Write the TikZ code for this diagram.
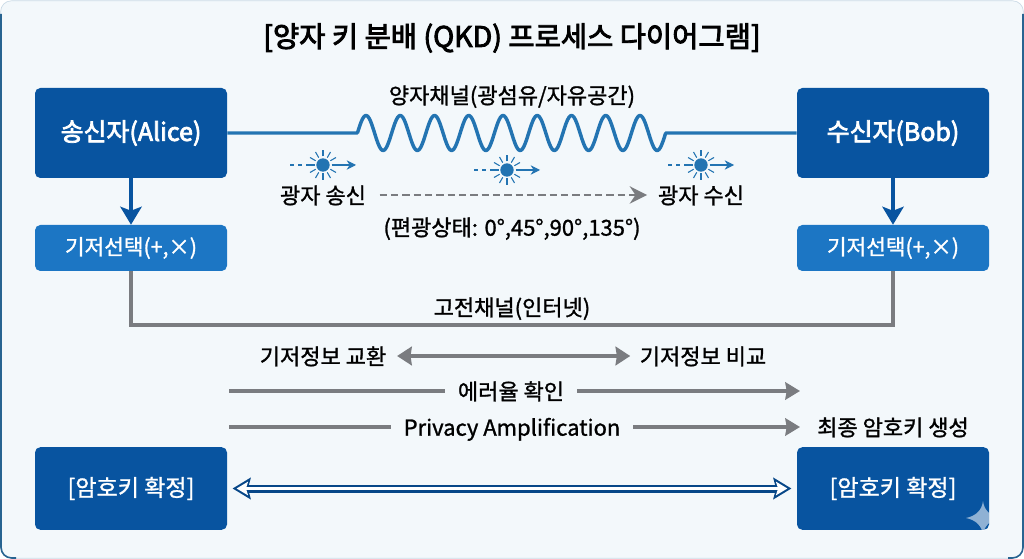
\documentclass[tikz,border=0pt]{standalone}
\usepackage{fontspec}
\setmainfont{Noto Sans CJK KR}[FakeBold=1.2]
\newfontfamily\heavyfont{Noto Sans CJK KR}[FakeBold=3]
\usepackage{tikz}
\usetikzlibrary{arrows.meta,positioning,calc}
\definecolor{pagebg}{RGB}{243,248,251}
\definecolor{frameblue}{RGB}{40,100,145}
\definecolor{alicenavy}{RGB}{8,84,160}
\definecolor{basisblue}{RGB}{28,118,196}
\definecolor{wireblue}{RGB}{35,116,178}
\definecolor{linkgray}{RGB}{122,124,128}
\newcommand{\photon}[3]{%
  \node[photoncore] (#1) at (#2,#3) {};
  \foreach \ang in {0,30,...,330}
    \draw[wireblue, line width=0.8pt] ($(#1)+(\ang:8.5)$) -- ($(#1)+(\ang:15)$);
  \draw[wireblue, dashed, line width=0.8pt] ($(#1)+(-33,0)$) -- ($(#1)+(-15,0)$);
  \draw[wireblue, -{Stealth[length=7pt,width=7pt]}, line width=0.8pt] ($(#1)+(15,0)$) -- ($(#1)+(33,0)$);
}

\begin{document}
\begin{tikzpicture}[
      x=0.75pt, y=-0.75pt, font=\fontsize{16.5}{18}\selectfont,
      party/.style={draw=none, rounded corners=4pt, align=center, minimum width=144pt,
                    minimum height=67.5pt, fill=alicenavy, text=white, font=\heavyfont\fontsize{18.7}{20}\selectfont},
      basis/.style={draw=none, rounded corners=4pt, align=center, minimum width=144pt,
                    minimum height=34.5pt, fill=basisblue, text=white, font=\fontsize{16}{18}\selectfont},
      keybox/.style={draw=none, rounded corners=4pt, align=center, minimum width=144pt,
                     minimum height=62pt, fill=alicenavy, text=white, font=\fontsize{17.3}{20}\selectfont},
      photoncore/.style={circle, fill=wireblue, inner sep=0pt, minimum size=10pt},
      lbl/.style={inner sep=2pt, text height=15.5pt, text depth=2.5pt},
      graylink/.style={draw=linkgray, line width=2.4pt},
      grayarrow/.style={graylink, -{Stealth[length=11pt,width=13pt,inset=1pt]}},
    ]
    \useasboundingbox (0,0) rectangle (1024,559);
    \fill[white] (0,0) rectangle (1024,559);
    \node[draw=pagebg!80!frameblue, line width=0.5pt, fill=pagebg, rounded corners=8pt, minimum width=767pt,
          minimum height=418pt, inner sep=0pt] (frame) at (512,279.5) {};
    \draw[frameblue, line width=1.2pt, rounded corners=8pt] (1,14) -- (1,558) -- (16,558);
    \draw[frameblue, line width=1.2pt, rounded corners=8pt] (1008,558) -- (1023,558) -- (1023,14);

    % title
    \node[font=\heavyfont\fontsize{21.4}{24}\selectfont] (title) at (512,38) {[양자 키 분배 (QKD) 프로세스 다이어그램]};

    % parties
    \node[party] (alice) at (131,133) {송신자(Alice)};
    \node[party] (bob) at (893,133) {수신자(Bob)};
    \node[basis] (basisa) at (131,248) {기저선택(+,×)};
    \node[basis] (basisb) at (893,248) {기저선택(+,×)};
    \node[keybox] (keya) at (131,488.5) {[암호키 확정]};
    \node[keybox] (keyb) at (893,488.5) {[암호키 확정]};
    \begin{scope}
      \clip (keyb.south west) rectangle (keyb.north east);
      \fill[white, opacity=0.55] (983,501) .. controls (984,510) and (990,516) .. (1000,518)
        .. controls (990,520) and (984,526) .. (983,535)
        .. controls (982,526) and (976,520) .. (966,518)
        .. controls (976,516) and (982,510) .. (983,501) -- cycle;
    \end{scope}

    % quantum channel
    \node[lbl] (qchan) at (512,95) {양자채널(광섬유/자유공간)};
    \coordinate (wavein) at (357.5,133);
    \coordinate (waveout) at (665.5,133);
    \draw[wireblue, line width=2.6pt, line join=round] (alice.east) -- (wavein)
      -- plot[domain=357.5:665.5, samples=240] (\x,{133-17.5*cos((\x-366)/34.25*360)})
      -- (waveout) -- (bob.west);

    \photon{ph1}{323}{165}
    \photon{ph2}{507}{170}
    \photon{ph3}{701}{165}

    \node[lbl] (sendtxt) at (323,195) {광자 송신};
    \node[lbl] (recvtxt) at (701,195) {광자 수신};
    \draw[linkgray, line width=1.8pt, dash pattern=on 5.5pt off 3pt, shorten <=8pt, shorten >=6pt,
          -{Stealth[length=13pt,width=13pt]}] (sendtxt) -- (recvtxt);
    \node[lbl] (poltxt) at (512,227) {(편광상태: 0°,45°,90°,135°)};

    % basis arrows and classical channel
    \draw[alicenavy, line width=2.6pt, -{Stealth[length=13.5pt,width=16pt,inset=3pt]}] (alice) -- (basisa);
    \draw[alicenavy, line width=2.6pt, -{Stealth[length=13.5pt,width=16pt,inset=3pt]}] (bob) -- (basisb);
    \draw[graylink, line width=2.7pt] (basisa.south) |- (512,325) -| (basisb.south);
    \node[lbl] (classic) at (512,307) {고전채널(인터넷)};

    % sifting rows
    \node[lbl] (infoa) at (323,356) {기저정보 교환};
    \node[lbl] (infob) at (703,356) {기저정보 비교};
    \draw[graylink, shorten <=6pt, shorten >=5pt, {Stealth[length=11pt,width=14pt,inset=1pt]}-{Stealth[length=11pt,width=14pt,inset=1pt]}] (infoa) -- (infob);

    \coordinate (errin) at (229,391);
    \coordinate (errout) at (800,391);
    \node[lbl, inner sep=9.5pt] (errtxt) at (511,391) {에러율 확인};
    \draw[graylink] (errin) -- (errtxt);
    \draw[grayarrow] (errtxt) -- (errout);

    \coordinate (ampin) at (229,427);
    \coordinate (ampout) at (800,427);
    \node[lbl, inner sep=9.5pt] (amptxt) at (512,427) {Privacy Amplification};
    \draw[graylink] (ampin) -- (amptxt);
    \draw[grayarrow] (amptxt) -- (ampout);
    \node[lbl] (finaltxt) at (893,427) {최종 암호키 생성};

    % final key link
    \draw[alicenavy!85!black, line width=6pt, {Stealth[length=13.5pt,width=16pt,inset=2pt]}-{Stealth[length=13.5pt,width=16pt,inset=2pt]},
          shorten <=4pt, shorten >=4pt] (keya) -- (keyb);
    \draw[white, line width=2.6pt, {Stealth[length=8.5pt,width=10pt,inset=1.5pt]}-{Stealth[length=8.5pt,width=10pt,inset=1.5pt]},
          shorten <=7pt, shorten >=7pt] (keya) -- (keyb);
  \end{tikzpicture}
\end{document}
